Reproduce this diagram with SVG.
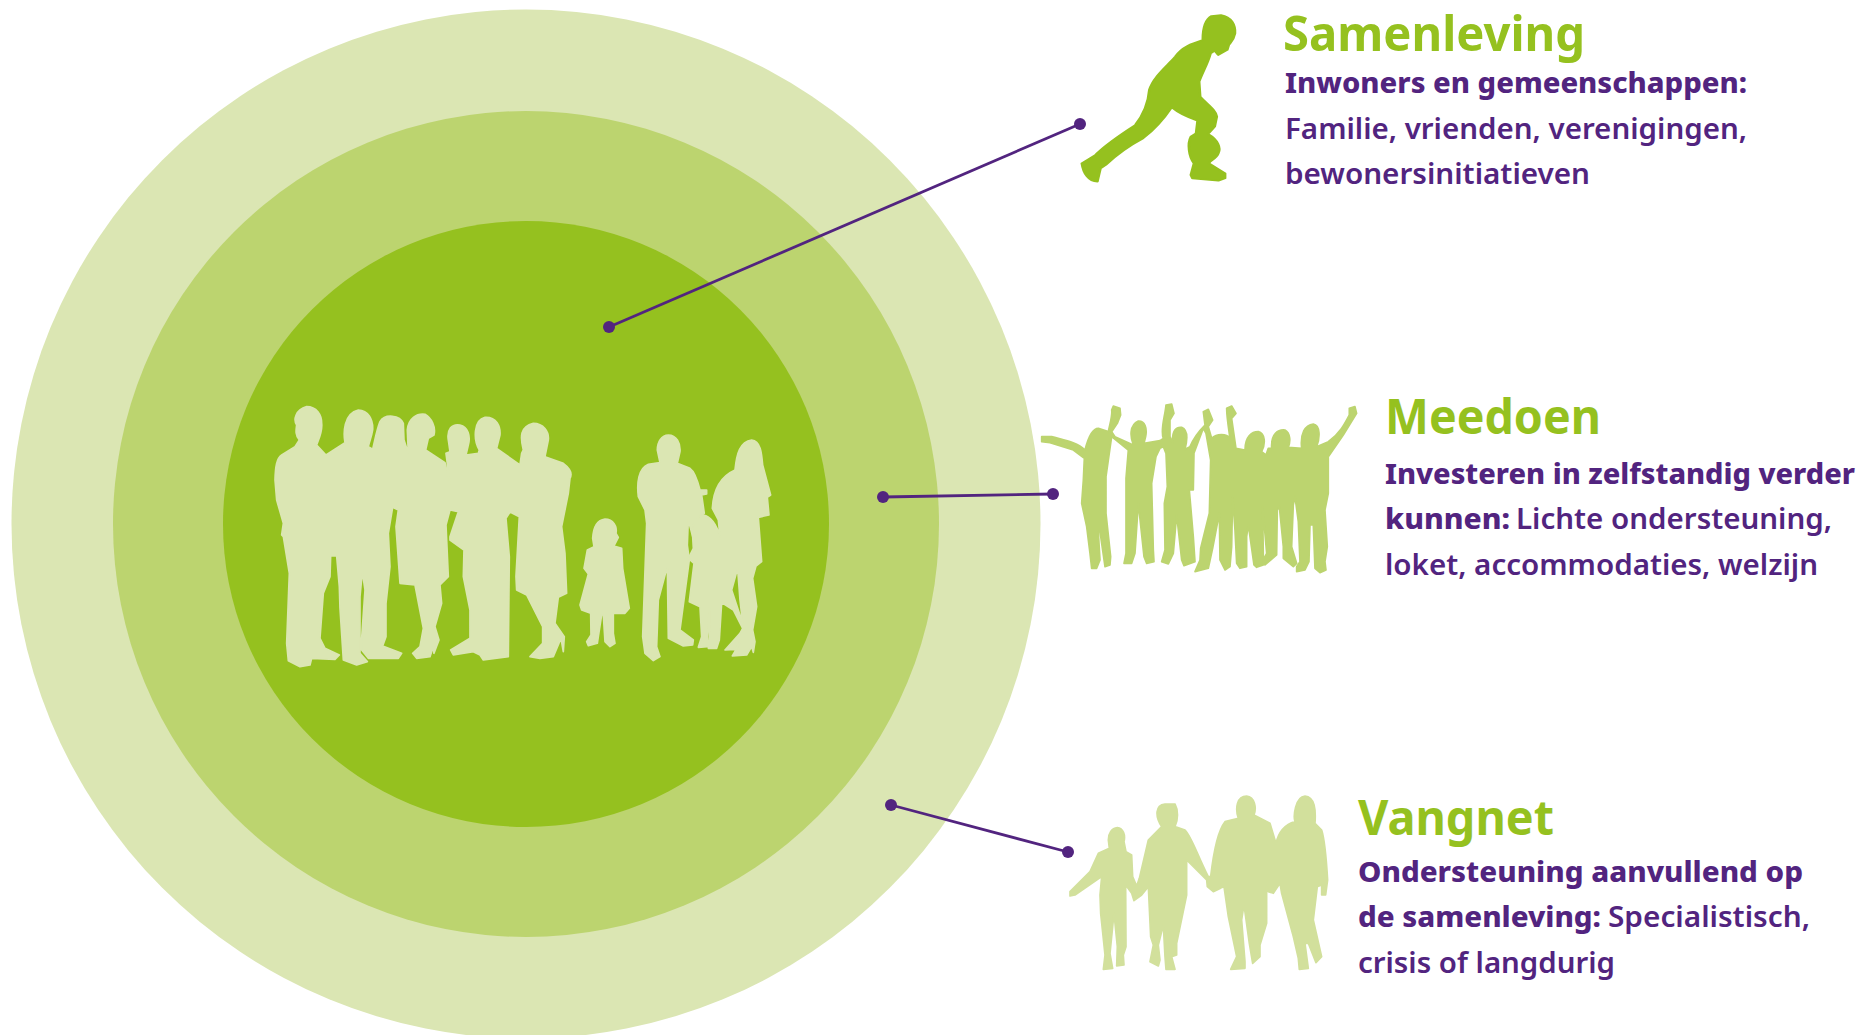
<svg xmlns="http://www.w3.org/2000/svg" width="1874" height="1035" viewBox="0 0 1874 1035">
<style>
text{font-family:"Noto Sans","Open Sans","Liberation Sans",sans-serif;fill:#52247f;font-size:29px;font-weight:600}
.h{fill:#95c11f;font-size:49px;font-weight:700}
.b{font-weight:800}
.c{stroke:#52247f;stroke-width:2.8;fill:none}
.d{fill:#52247f}
.s{stroke-width:5;stroke-linejoin:round}
</style>
<rect width="1874" height="1035" fill="#fff"/>
<g id="rings">
<circle id="ring-outer" cx="526" cy="524" r="514.5" fill="#dbe6b3"/>
<circle id="ring-middle" cx="526" cy="524" r="413" fill="#bcd46f"/>
<circle id="ring-inner" cx="526" cy="524" r="303" fill="#95c11f"/>
</g>
<g id="crowd" fill="#dbe6b3" stroke="#dbe6b3" fill-rule="evenodd">
<path class="s" transform="translate(260 390) scale(.3333)" d="M140 50C170 50 185 75 185 100C188 125 175 150 170 165L198 195L255 158C250 130 250 70 295 60C325 60 340 90 338 120C335 140 328 155 325 170L338 178C345 150 350 120 360 95C375 70 420 75 430 100L432 150L445 190L442 120C445 85 470 70 495 73C515 85 528 110 522 135L505 145L497 180L555 218L570 280L558 190L570 185L565 150C560 120 575 100 600 105C625 110 632 140 625 165L618 195L655 190L658 180C640 150 640 90 675 82C710 80 722 110 720 135L710 175L780 225L785 190L790 180C780 140 780 110 820 100C850 100 868 125 865 150L855 200L910 220C930 235 938 250 930 265L925 310L905 410L915 490L920 610L895 622L885 700L913 740L910 785L903 745L880 800L840 805L810 800L848 760L848 710L800 615L770 600L768 560L778 380L750 366L738 385L748 500L745 800L670 810L660 795L640 785L580 795L572 780L630 745L630 660L610 560L612 480L570 450L570 440L595 365L570 360L558 405L565 560L540 585L545 640L525 710L537 750L522 790L520 770L510 800L470 805L458 790L480 770L490 715L465 585L420 580L408 410L415 360L398 352L385 430L390 530L378 640L378 740L368 768L425 790L415 805L325 805L305 780L305 745L315 600L307 545L300 620L300 790L322 815L290 825L250 810L240 655L238 590L230 498L212 498L210 560L190 610L180 745L195 775L238 795L225 808L155 805L150 825L120 830L85 812L80 760L88 550L70 440L65 435L70 400L50 330L45 270C46 230 50 205 65 195L105 170L118 150C105 135 108 120 110 105C100 90 105 60 140 50Z"/>
<g transform="translate(570 420) scale(.3333)">
<path class="s" d="M105 297C130 297 142 320 138 340L145 352L132 378L155 385L158 445L178 565L165 580L130 580L130 640L135 670L120 680L105 665L100 585L95 585L85 650L82 670L55 677L50 665L63 645L62 580L35 570L30 555L55 462L42 445L52 390L72 380L68 355C70 320 80 300 105 297Z"/>
<path class="s" d="M295 45C320 45 332 70 330 95L322 130L360 145C375 155 385 190 390 210L410 210L410 222L395 225L403 280L388 290C375 300 368 320 368 350L355 300L352 375L358 420L330 630L370 660L368 675L340 678L295 655L292 440L265 540L260 680L270 710L250 722L225 700L218 650L230 310L225 270L205 230C200 190 205 145 235 133L270 128L262 90C262 65 275 45 295 45Z"/>
<path class="s" d="M545 60C572 62 575 100 578 135L602 225L592 232L597 285L565 292L575 425L558 438L548 475L560 560L548 630L555 665L550 697L545 680L530 705L487 708L515 660L495 688L465 690L510 640L518 625L490 570L455 548L448 660L440 685L415 685L418 650L418 565L412 650L412 680L385 682L395 650L390 560L358 545L372 430L355 415L370 385L367 330C370 305 385 290 400 285C425 290 440 315 450 350L445 300L427 265C430 210 450 170 495 150C500 100 510 65 545 60ZM503 445L485 510L518 610L510 540Z"/>
</g>
</g>
<g id="connectors">
<line class="c" x1="609" y1="327" x2="1080" y2="124"/><circle class="d" cx="609" cy="327" r="6"/><circle class="d" cx="1080" cy="124" r="6"/>
<line class="c" x1="883" y1="497" x2="1053" y2="494"/><circle class="d" cx="883" cy="497" r="6"/><circle class="d" cx="1053" cy="494" r="6"/>
<line class="c" x1="891" y1="805" x2="1068" y2="852"/><circle class="d" cx="891" cy="805" r="6"/><circle class="d" cx="1068" cy="852" r="6"/>
</g>
<g id="samenleving">
<path class="s" fill="#95c11f" stroke="#95c11f" stroke-width="2" transform="translate(1060 0) scale(.5192 .3333)" d="M310 45C330 50 338 75 337 100C335 118 330 125 325 135L322 150L305 165L298 152L290 160C285 190 275 215 268 245L270 290C285 315 300 330 302 350L298 380L285 402C305 420 310 445 305 460C300 480 288 480 287 490L318 520L318 535L305 542L255 535L252 525L258 490C248 470 245 430 252 410L262 400L265 362C245 352 225 335 215 322C205 345 185 385 160 415C130 440 105 470 88 495L78 505L72 545C55 545 45 520 42 490L68 465C90 430 120 400 145 375C160 345 170 310 172 270C180 230 205 200 222 170C235 140 255 130 275 120C275 90 278 60 292 48Z"/>
<text class="h" x="1283" y="51" textLength="302" lengthAdjust="spacingAndGlyphs">Samenleving</text>
<text class="b" x="1285" y="93" textLength="462" lengthAdjust="spacingAndGlyphs">Inwoners en gemeenschappen:</text>
<text x="1285" y="139" textLength="462" lengthAdjust="spacingAndGlyphs">Familie, vrienden, verenigingen,</text>
<text x="1285" y="184" textLength="305" lengthAdjust="spacingAndGlyphs">bewonersinitiatieven</text>
</g>
<g id="meedoen">
<path class="s" fill="#bcd46f" stroke="#bcd46f" transform="translate(1030 390) scale(.3333)" d="M35 140L65 140C100 150 140 155 165 180C175 140 190 115 205 115L235 125C240 100 248 75 245 60L250 48L270 55L272 75L262 100L245 125L255 140L310 165C300 140 298 105 325 93C345 92 352 115 347 140L342 160L390 152L400 145C390 120 405 80 408 45L425 42L432 70L420 90L420 140L428 160C425 120 440 110 455 112C470 118 475 140 465 178L480 170C490 145 505 125 525 105L520 65L535 58L548 90L535 110L545 145C560 130 590 130 600 145C595 110 590 80 590 55L605 48L618 70L605 85L618 175L645 180C645 140 665 125 685 125C705 130 708 160 695 185L708 195L715 175L725 175C722 130 745 118 765 120C782 130 782 155 775 172L815 175C810 130 825 105 850 102C872 105 870 145 860 170L895 155C930 130 945 100 958 75L958 55L975 50L980 70L940 135L895 200L895 310L885 360L892 470L885 515L888 540L870 548L855 535L850 405L840 405L837 515L825 540L800 545L800 530L810 515L805 395L795 320L790 345L785 470L800 520L790 530L760 505L760 470L748 350L742 360L740 495L705 525L700 510L710 490L698 350L700 495L700 525L680 532L672 525L655 405L650 440L650 530L630 535L620 520L615 420L608 320L605 470L600 530L585 540L570 510L568 370L548 475L535 535L495 545L510 510L512 475L538 370L542 210L528 130L520 115L492 190L490 300L478 300L490 440L495 515L462 527L455 510L440 375L430 490L415 522L395 515L405 480L403 340L412 290L408 190L400 170L390 175L378 200L365 280L370 480L372 515L350 520L342 500L325 340L315 490L305 520L282 520L288 490L288 265L295 180L245 140L228 260L228 370L242 500L240 525L225 530L210 425L205 425L210 510L200 535L185 535L180 490L170 410L155 340L160 270L163 205L130 180L60 158L35 155Z"/>
<text class="h" x="1385" y="434" textLength="216" lengthAdjust="spacingAndGlyphs">Meedoen</text>
<text class="b" x="1385" y="484" textLength="470" lengthAdjust="spacingAndGlyphs">Investeren in zelfstandig verder</text>
<text class="b" x="1385" y="529" textLength="125" lengthAdjust="spacingAndGlyphs">kunnen:</text>
<text x="1516" y="529" textLength="316" lengthAdjust="spacingAndGlyphs">Lichte ondersteuning,</text>
<text x="1385" y="575" textLength="433" lengthAdjust="spacingAndGlyphs">loket, accommodaties, welzijn</text>
</g>
<g id="vangnet">
<path class="s" fill="#d2e09c" stroke="#d2e09c" transform="translate(1060 780) scale(.3333)" d="M172 143C190 145 197 165 192 185L198 215L215 225L218 290L230 318L238 295L265 180L305 140C285 110 285 75 315 72L345 72C355 90 355 120 345 140L375 150C395 170 410 220 445 290L452 290C460 220 475 150 495 125L535 115C525 85 530 48 560 48C585 50 590 85 582 105L630 130L648 190C655 160 670 135 705 125C700 110 705 50 735 48C765 50 768 90 765 130L785 150C795 180 800 250 803 300L797 345L785 345L785 315L772 320L760 420L785 530L768 548L745 490L735 490L745 565L718 568L715 535L700 470L665 340L660 310L640 340L625 335L620 320L620 430L600 495L600 530L578 550L568 490L552 375L545 420L555 545L555 565L512 568L530 530L505 410L492 320L480 325L482 325L460 335L442 320L440 300L380 240L380 345L350 490L350 525L335 530L345 568L318 568L315 530L310 435L295 495L300 540L295 558L270 545L280 495L272 470L265 320L245 345L222 362L215 340L197 315L198 500L190 525L192 555L170 558L172 500L162 400L150 520L158 565L130 568L135 525L122 400L120 345L125 290L45 345L30 348L30 335L90 275L115 220L148 205L145 180C145 160 155 145 172 143Z"/>
<text class="h" x="1358" y="835" textLength="196" lengthAdjust="spacingAndGlyphs">Vangnet</text>
<text class="b" x="1358" y="882" textLength="445" lengthAdjust="spacingAndGlyphs">Ondersteuning aanvullend op</text>
<text class="b" x="1358" y="927" textLength="243" lengthAdjust="spacingAndGlyphs">de samenleving:</text>
<text x="1608" y="927" textLength="202" lengthAdjust="spacingAndGlyphs">Specialistisch,</text>
<text x="1358" y="973" textLength="257" lengthAdjust="spacingAndGlyphs">crisis of langdurig</text>
</g>
</svg>
